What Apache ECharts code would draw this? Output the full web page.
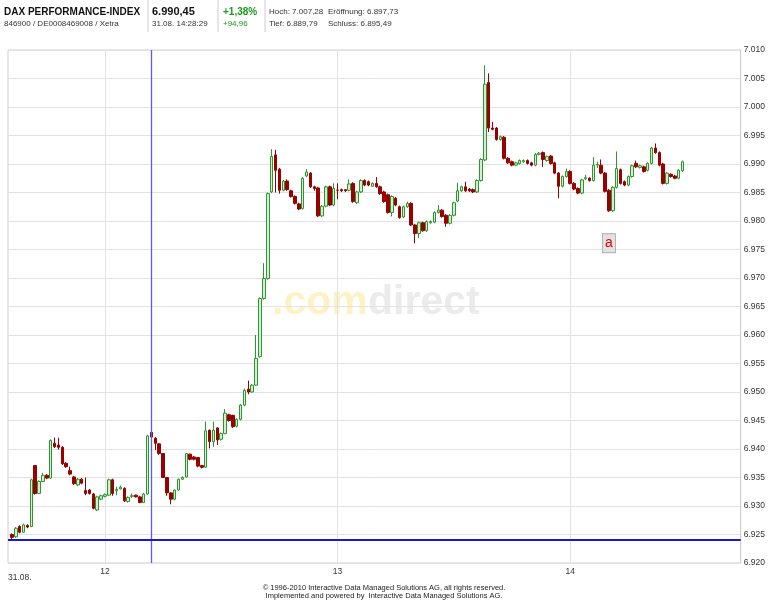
<!DOCTYPE html>
<html><head><meta charset="utf-8">
<script src="https://cdn.jsdelivr.net/npm/echarts@6/dist/echarts.min.js"></script>
<style>html,body{margin:0;padding:0;background:#fff}#c{width:768px;height:600px}</style>
</head><body><div id="c"></div>
<script>
// ---- data (1-minute candles, 31.08., first candle 11:36) ----
const firstCandle = '11:36';
const axisStart = '11:35';
const axisCount = 190;
const opens = [6925.0,6924.6,6926.4,6925.4,6926.6,6926.4,6937.1,6932.2,6934.3,6935.4,6934.9,6941.0,6940.7,6940.3,6937.5,6936.2,6935.1,6933.7,6934.7,6932.7,
6932.8,6932.1,6929.3,6931.2,6931.7,6931.9,6934.6,6932.7,6933.0,6933.1,6930.8,6931.7,6931.9,6931.6,6930.6,6932.1,6942.9,6941.9,6940.9,6939.2,
6935.0,6932.3,6931.2,6932.8,6934.7,6935.1,6939.1,6938.6,6938.5,6937.1,6936.8,6943.3,6941.3,6943.7,6941.7,6942.7,6946.0,6945.9,6944.0,6945.2,
6947.7,6950.5,6950.0,6951.2,6956.2,6966.4,6969.9,6985.1,6991.6,6989.1,6985.4,6987.0,6985.3,6984.3,6983.0,6982.2,6987.9,6988.4,6986.0,6985.8,
6980.9,6982.6,6986.0,6982.8,6985.4,6985.5,6985.5,6985.4,6986.6,6983.2,6985.1,6987.1,6986.9,6986.1,6986.6,6986.0,6985.1,6984.6,6981.5,6984.0,
6982.5,6980.7,6982.5,6983.1,6979.3,6977.8,6979.7,6978.3,6979.7,6979.8,6981.5,6981.9,6981.0,6979.6,6981.0,6983.5,6985.3,6986.0,6985.6,6985.5,
6985.1,6987.1,6990.7,7004.3,6996.3,6996.3,6994.3,6994.7,6991.0,6990.4,6989.8,6990.1,6990.4,6990.6,6990.2,6989.8,6991.7,6992.0,6990.6,6991.4,
6990.2,6988.4,6986.1,6987.8,6988.7,6986.6,6985.7,6984.9,6987.4,6987.5,6987.1,6989.8,6989.8,6988.4,6985.4,6981.8,6985.9,6989.0,6986.9,6986.3,
6987.8,6990.1,6989.4,6989.5,6988.9,6990.1,6992.8,6992.0,6990.0,6986.6,6988.2,6987.9,6987.5,6988.8];
const closes = [6924.5,6926.1,6925.4,6926.7,6926.3,6934.6,6932.2,6934.3,6935.4,6934.9,6941.5,6940.4,6940.3,6937.4,6936.9,6935.6,6933.9,6934.7,6934.0,6932.2,
6932.2,6929.6,6931.6,6931.8,6932.0,6934.6,6932.2,6932.9,6933.3,6930.9,6931.5,6931.8,6931.6,6930.6,6932.1,6942.3,6942.1,6941.0,6939.2,6935.0,
6932.3,6931.2,6932.8,6934.7,6935.0,6939.2,6938.2,6938.2,6937.0,6936.8,6943.2,6941.3,6943.3,6941.6,6942.7,6946.3,6945.0,6943.9,6945.2,6947.7,
6950.3,6950.0,6951.2,6955.9,6966.4,6969.9,6984.8,6991.3,6988.9,6985.4,6987.0,6985.5,6984.3,6983.1,6982.1,6987.5,6988.6,6986.0,6985.7,6980.9,
6982.6,6986.0,6982.8,6985.7,6985.4,6985.3,6985.3,6986.5,6983.4,6985.1,6987.1,6986.3,6986.3,6986.6,6986.0,6984.8,6983.4,6981.5,6984.3,6982.8,
6980.6,6982.5,6983.1,6979.3,6977.8,6979.7,6978.3,6979.9,6979.9,6981.5,6981.9,6980.8,6979.6,6981.0,6983.2,6985.3,6986.0,6985.3,6985.3,6985.1,
6987.1,6990.8,7004.0,6996.3,6996.1,6994.3,6994.8,6991.0,6990.2,6989.8,6990.2,6990.6,6990.6,6990.1,6989.8,6991.7,6991.9,6990.8,6991.3,6990.1,
6988.4,6986.1,6987.8,6988.7,6986.6,6985.6,6984.9,6987.2,6987.6,6987.1,6989.8,6989.9,6988.4,6985.2,6981.8,6985.9,6989.2,6986.6,6986.3,6987.8,
6989.7,6989.5,6989.7,6988.7,6990.1,6992.8,6992.0,6989.8,6986.6,6988.4,6987.8,6987.5,6988.9,6990.4];
const lows = [6924.0,6924.4,6925.2,6925.3,6926.1,6926.3,6932.0,6932.1,6934.2,6934.7,6934.8,6940.2,6939.9,6937.2,6936.7,6935.4,6933.7,6933.5,6933.8,6931.9,
6932.0,6929.4,6929.1,6931.0,6931.5,6931.8,6931.8,6931.9,6932.9,6930.7,6930.6,6931.4,6931.5,6930.5,6930.5,6932.0,6941.9,6939.8,6939.0,6934.9,
6931.8,6930.3,6931.0,6932.7,6934.6,6935.0,6938.0,6938.0,6936.8,6936.6,6936.7,6940.1,6940.4,6940.7,6941.5,6942.6,6944.8,6943.7,6943.8,6945.0,
6947.5,6949.6,6949.9,6951.1,6956.0,6966.2,6969.7,6984.9,6985.0,6984.8,6985.2,6985.3,6984.1,6982.9,6981.9,6982.0,6987.7,6985.8,6985.3,6980.7,
6980.7,6982.4,6982.6,6982.6,6983.8,6985.1,6985.1,6985.2,6983.2,6983.0,6984.9,6986.1,6986.1,6986.0,6985.8,6984.6,6983.2,6981.3,6980.8,6982.6,
6980.4,6980.5,6982.3,6979.1,6976.1,6977.0,6978.1,6978.1,6979.5,6979.6,6981.3,6980.6,6979.0,6979.4,6980.8,6983.3,6985.1,6985.1,6985.1,6984.9,
6984.9,6986.9,6990.5,6995.6,6995.9,6994.1,6994.1,6990.8,6990.0,6989.6,6989.6,6989.9,6990.2,6989.9,6989.6,6989.6,6991.5,6989.5,6990.4,6989.9,
6988.2,6984.0,6985.9,6987.6,6986.4,6985.4,6984.7,6984.7,6987.2,6986.9,6986.9,6989.3,6988.2,6985.0,6981.6,6981.6,6985.7,6986.4,6986.1,6986.1,
6987.6,6989.3,6989.2,6988.5,6988.7,6989.9,6991.8,6989.6,6986.4,6986.4,6987.6,6987.3,6987.3,6988.6];
const highs = [6925.2,6926.3,6926.6,6926.9,6926.8,6934.8,6937.2,6934.5,6935.8,6935.6,6941.7,6942.0,6942.0,6940.5,6937.7,6936.9,6935.3,6934.9,6934.9,6935.0,
6933.0,6932.3,6931.8,6932.0,6932.2,6934.8,6934.8,6933.4,6933.6,6933.3,6931.7,6932.2,6932.0,6931.8,6932.3,6942.5,6943.1,6942.1,6941.0,6939.3,
6935.1,6932.4,6932.9,6934.8,6935.2,6939.3,6939.2,6938.8,6938.6,6937.2,6944.8,6943.4,6944.8,6943.8,6942.9,6947.0,6946.2,6946.0,6945.4,6947.9,
6950.6,6952.0,6951.4,6960.0,6966.6,6972.6,6985.0,6992.6,6992.5,6989.3,6987.2,6987.3,6985.5,6984.5,6983.2,6987.7,6989.1,6988.6,6986.2,6986.0,
6982.8,6986.2,6986.2,6986.6,6986.6,6985.7,6985.6,6987.3,6986.8,6985.3,6987.3,6987.3,6987.1,6986.8,6987.7,6986.2,6985.3,6984.8,6984.5,6984.2,
6982.7,6982.7,6983.4,6983.3,6979.5,6979.9,6979.9,6980.1,6980.1,6981.7,6982.8,6982.1,6981.2,6981.2,6983.4,6986.7,6986.2,6986.9,6985.8,6985.7,
6987.3,6991.0,7007.3,7005.9,6997.4,6996.5,6995.0,6994.9,6991.2,6990.6,6990.4,6990.8,6990.8,6990.8,6990.4,6991.9,6992.1,6992.2,6991.5,6991.6,
6990.4,6988.6,6988.0,6989.2,6988.9,6986.8,6985.9,6987.4,6988.1,6987.7,6991.2,6990.4,6990.8,6988.6,6985.6,6986.1,6992.2,6989.2,6987.1,6988.0,
6989.9,6990.6,6989.9,6989.7,6990.3,6993.0,6993.6,6992.2,6990.2,6988.6,6988.4,6988.1,6989.1,6990.6];
const yTicks = {min: 6920, max: 7010, step: 5};
const cursorTime = '12:12';
const cursorPrice = 6924.0;
const newsTime = '14:10';
const newsPrice = 6976.1;

// ---- build categories ----
function toMin(s){const p=s.split(':');return +p[0]*60 + +p[1];}
function toStr(m){return String(Math.floor(m/60)).padStart(2,'0')+':'+String(m%60).padStart(2,'0');}
const categories = [];
for (let k=0;k<axisCount;k++) categories.push(toStr(toMin(axisStart)+k));
const offset = toMin(firstCandle) - toMin(axisStart);
const candleData = categories.map((c,k)=>{
  const i=k-offset;
  if(i>=0 && i<opens.length) return [opens[i],closes[i],lows[i],highs[i]];
  return ['-','-','-','-'];
});

const F = "'Liberation Sans', Arial, sans-serif";
const gridCol = '#e2e2e2';
const chart = echarts.init(document.getElementById('c'), null, {renderer:'canvas'});
const sep = x => ({type:'line', shape:{x1:x,y1:0,x2:x,y2:32}, style:{stroke:'#cccccc', lineWidth:1}});
const txt = (x,y,t,size,color,weight,extra) => Object.assign({type:'text', x, y, style:{text:t, fontSize:size, fontFamily:F, fill:color||'#111', fontWeight:weight||'normal', textVerticalAlign:'middle'}}, extra||{});
chart.setOption({
  animation:false,
  backgroundColor:'#ffffff',
  grid:{left:8, right:25, top:50, bottom:37, show:true, borderColor:'#cfcfcf', borderWidth:1},
  xAxis:{
    type:'category', data:categories, boundaryGap:false,
    axisLine:{show:false}, axisTick:{show:false},
    axisLabel:{interval:(i,v)=>v.endsWith(':00'), formatter:v=>String(parseInt(v,10)), fontSize:8.5, color:'#333', fontFamily:F, margin:4},
    splitLine:{show:true, interval:(i,v)=>v.endsWith(':00'), lineStyle:{color:gridCol, width:1}}
  },
  yAxis:{
    type:'value', position:'right', min:yTicks.min, max:yTicks.max, interval:yTicks.step, scale:true,
    axisLine:{show:true, lineStyle:{color:'#cfcfcf'}}, axisTick:{show:false},
    axisLabel:{formatter:v=>(v/1000).toFixed(3), fontSize:8.5, color:'#333', fontFamily:F, margin:3},
    splitLine:{show:true, lineStyle:{color:gridCol, width:1}}
  },
  series:[{
    type:'candlestick', data:candleData, barWidth:3,
    itemStyle:{color:'#d3eed3', color0:'#990000', borderColor:'#2e962e', borderColor0:'#990000', borderWidth:1},
    markLine:{silent:true, symbol:['none','none'], label:{show:false}, animation:false,
      lineStyle:{color:'#5a5af5', width:1.3, type:'solid', opacity:1},
      emphasis:{disabled:true},
      data:[
        {xAxis:cursorTime, lineStyle:{color:'#5a5af5', width:1.3, type:'solid', opacity:1}},
        {yAxis:cursorPrice, lineStyle:{color:'#1a1acc', width:2, type:'solid', opacity:1}}
      ]},
    markPoint:{silent:true, animation:false,
      data:[{coord:[newsTime, newsPrice], symbol:'rect', symbolSize:[13,19],
        itemStyle:{color:'#e2e2e2', borderColor:'#aaaaaa', borderWidth:1},
        label:{show:true, position:'inside', formatter:'a', color:'#e00000', fontSize:14, fontFamily:F}}]}
  }],
  graphic:[
    {type:'text', left:272, top:282, z:-10, style:{text:'.com', fontSize:41, fontWeight:'bold', fontFamily:F, fill:'#fdf2c6'}},
    {type:'text', left:368, top:282, z:-10, style:{text:'direct', fontSize:41, fontWeight:'bold', fontFamily:F, fill:'#ebebeb'}},
    sep(148), sep(218), sep(265),
    txt(4,12,'DAX PERFORMANCE-INDEX',10,'#111','bold'),
    txt(4,24,'846900 / DE0008469008 / Xetra',8,'#333'),
    txt(152,12,'6.990,45',11,'#111','bold'),
    txt(152,24,'31.08. 14:28:29',8,'#333'),
    txt(223,12,'+1,38%',10,'#1a9a1a','bold'),
    txt(223,24,'+94,96',8,'#1a9a1a'),
    txt(269,12,'Hoch: 7.007,28',8,'#333'),
    txt(328,12,'Eröffnung: 6.897,73',8,'#333'),
    txt(269,24,'Tief: 6.889,79',8,'#333'),
    txt(328,24,'Schluss: 6.895,49',8,'#333'),
    txt(8,578,'31.08.',8.5,'#333'),
    {type:'text', x:384, y:588, style:{text:'© 1996-2010 Interactive Data Managed Solutions AG, all rights reserved.', fontSize:7.5, fontFamily:"'Liberation Sans Narrow', 'Liberation Sans', Arial", fill:'#222', textAlign:'center', textVerticalAlign:'middle'}},
    {type:'text', x:384, y:596, style:{text:'Implemented and powered by  Interactive Data Managed Solutions AG.', fontSize:7.5, fontFamily:"'Liberation Sans Narrow', 'Liberation Sans', Arial", fill:'#222', textAlign:'center', textVerticalAlign:'middle'}}
  ]
});
</script></body></html>
